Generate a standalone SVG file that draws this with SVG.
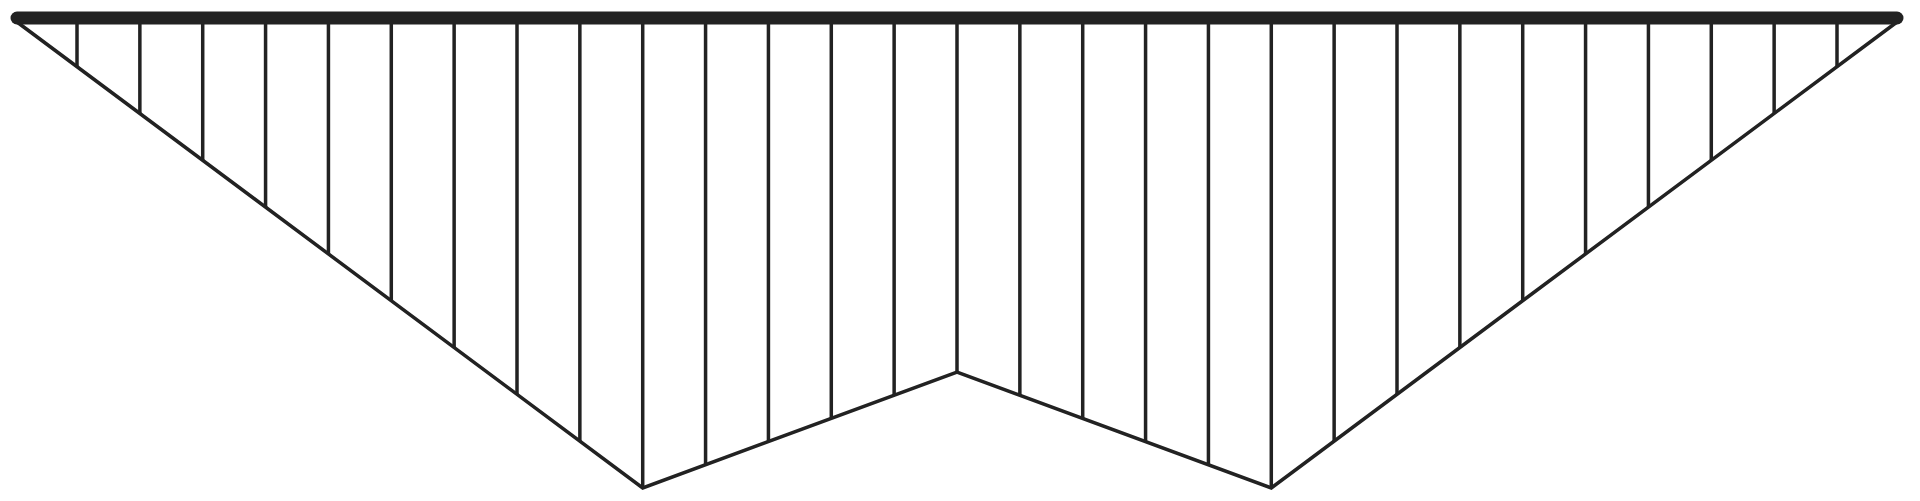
<svg xmlns="http://www.w3.org/2000/svg" width="1920" height="501" viewBox="0 0 1920 501">
<style>
.ln{stroke:#222;stroke-width:3.5;fill:none;stroke-linejoin:miter}
.v{stroke:#222;stroke-width:3.5}
.bar{stroke:#222;stroke-width:13;stroke-linecap:round}
</style>
<rect width="1920" height="501" fill="#fff"/>
<g id="ordinates">
<line class="v" x1="77" y1="18" x2="77" y2="66.7"/>
<line class="v" x1="139.86" y1="18" x2="139.86" y2="113.5"/>
<line class="v" x1="202.71" y1="18" x2="202.71" y2="160.2"/>
<line class="v" x1="265.57" y1="18" x2="265.57" y2="207"/>
<line class="v" x1="328.43" y1="18" x2="328.43" y2="253.8"/>
<line class="v" x1="391.29" y1="18" x2="391.29" y2="300.6"/>
<line class="v" x1="454.14" y1="18" x2="454.14" y2="347.4"/>
<line class="v" x1="517" y1="18" x2="517" y2="394.2"/>
<line class="v" x1="579.86" y1="18" x2="579.86" y2="441"/>
<line class="v" x1="642.71" y1="18" x2="642.71" y2="488"/>
<line class="v" x1="705.57" y1="18" x2="705.57" y2="464.8"/>
<line class="v" x1="768.43" y1="18" x2="768.43" y2="441.6"/>
<line class="v" x1="831.29" y1="18" x2="831.29" y2="418.3"/>
<line class="v" x1="894.14" y1="18" x2="894.14" y2="395.1"/>
<line class="v" x1="957" y1="18" x2="957" y2="372"/>
<line class="v" x1="1019.86" y1="18" x2="1019.86" y2="395.1"/>
<line class="v" x1="1082.71" y1="18" x2="1082.71" y2="418.3"/>
<line class="v" x1="1145.57" y1="18" x2="1145.57" y2="441.6"/>
<line class="v" x1="1208.43" y1="18" x2="1208.43" y2="464.8"/>
<line class="v" x1="1271.29" y1="18" x2="1271.29" y2="488"/>
<line class="v" x1="1334.14" y1="18" x2="1334.14" y2="441"/>
<line class="v" x1="1397" y1="18" x2="1397" y2="394.2"/>
<line class="v" x1="1459.86" y1="18" x2="1459.86" y2="347.4"/>
<line class="v" x1="1522.71" y1="18" x2="1522.71" y2="300.6"/>
<line class="v" x1="1585.57" y1="18" x2="1585.57" y2="253.8"/>
<line class="v" x1="1648.43" y1="18" x2="1648.43" y2="207"/>
<line class="v" x1="1711.29" y1="18" x2="1711.29" y2="160.2"/>
<line class="v" x1="1774.14" y1="18" x2="1774.14" y2="113.5"/>
<line class="v" x1="1837" y1="18" x2="1837" y2="66.7"/>
</g>
<g id="outline">
<polyline class="ln" points="17,22 642.71,488 957,372 1271.29,488 1897,22"/>
</g>
<g id="beam">
<line class="bar" x1="17" y1="18" x2="1897" y2="18"/>
</g>
</svg>
